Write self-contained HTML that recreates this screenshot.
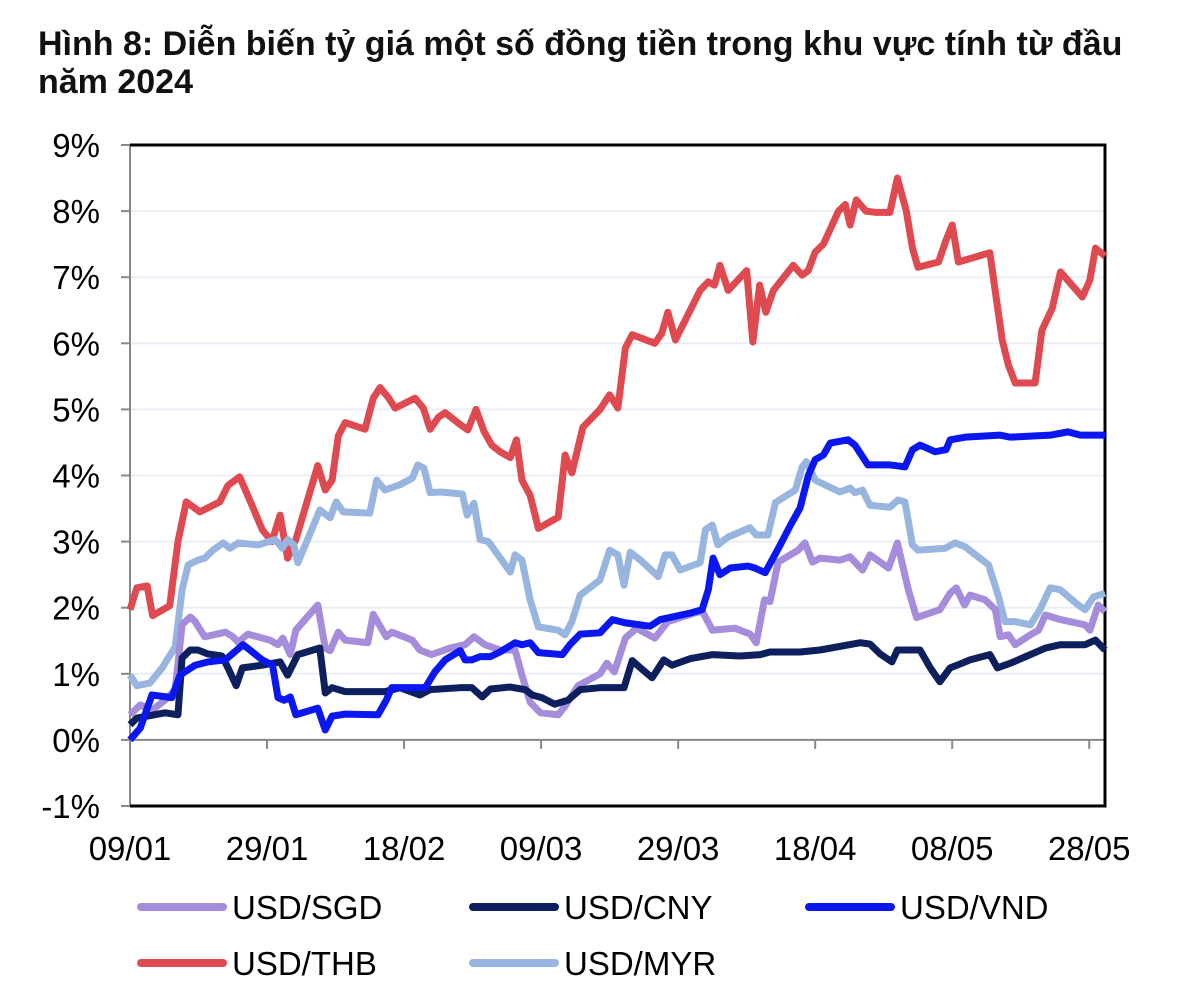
<!DOCTYPE html>
<html><head><meta charset="utf-8">
<style>
body{margin:0;background:#fff;width:1200px;height:999px;overflow:hidden;font-family:"Liberation Sans",Arial,sans-serif}
.title{position:absolute;left:38px;top:25px;font-weight:bold;font-size:34px;line-height:38px;color:#111}
</style></head><body>
<div class="title">Hình 8: Diễn biến tỷ giá một số đồng tiền trong khu vực tính từ đầu<br>năm 2024</div>
<svg id="c" width="1200" height="999" style="position:absolute;left:0;top:0"></svg>
<script>
const yTicks=[-1,0,1,2,3,4,5,6,7,8,9];
const xTickDays=[0,20,40,60,80,100,120,140];
const xTickLabels=["09/01","29/01","18/02","09/03","29/03","18/04","08/05","28/05"];
const thbDays=[0,1,2.5,3.3,5.8,7,8.2,10.2,13.1,14.3,16,17.8,19.3,20.7,21.9,23,24.2,27.4,28.5,29.5,30.4,31.4,34.3,35.5,36.5,37.7,38.7,41.6,42.8,43.8,45,46,48.2,49.3,50.5,51.7,52.8,54,55.5,56.4,57.2,58.4,59.6,62.5,63.5,64.5,66.1,68.6,70,71.2,72.3,73.3,76.6,77.6,78.5,79.6,83.2,84.4,85.3,86.1,87.3,90,90.9,91.9,92.8,93.9,96.8,98.1,99,100,101.2,103.4,104.4,105.1,106,107.4,108.9,110.9,112,113.3,114.2,115,118,119.1,120,120.9,125.5,126.4,127.3,128.2,129.2,132.1,133.1,134.6,135.8,139,140.1,140.9,142.3];
const thbVals=[1.97,2.3,2.33,1.88,2.03,3.0,3.6,3.45,3.6,3.85,3.98,3.55,3.18,3.0,3.4,2.75,3.03,4.15,3.78,3.93,4.6,4.8,4.7,5.17,5.33,5.18,5.02,5.17,5.02,4.7,4.88,4.95,4.77,4.69,5.0,4.66,4.46,4.36,4.27,4.54,3.93,3.7,3.2,3.37,4.31,4.04,4.73,5.0,5.22,5.02,5.93,6.13,6.0,6.15,6.47,6.05,6.8,6.93,6.88,7.18,6.8,7.1,6.02,6.88,6.47,6.8,7.18,7.03,7.1,7.38,7.5,8.0,8.1,7.79,8.17,8.0,7.98,7.98,8.5,8.0,7.44,7.15,7.23,7.56,7.79,7.23,7.37,6.7,6.05,5.67,5.4,5.4,6.2,6.53,7.08,6.7,6.96,7.44,7.32];
const sgdDays=[0,1.5,3.2,5.1,6.6,7.6,8.8,9.5,10.9,13.9,14.9,15.8,17.2,20.4,21.6,22.3,23.4,24.2,27.4,28.5,29.2,30.4,31.4,34.7,35.5,37.4,38.2,41.2,42.3,44,46.7,48.9,50.2,51.8,54,56.2,57.2,58.4,59.9,62.5,63.5,65.4,68.6,69.6,70.7,72.3,73.9,76.6,78.5,81.8,83.5,85,88.3,90.5,91.4,92.6,93.4,94.6,97.5,98.5,99.6,100.7,103.6,105.1,106.9,108,110.7,112,113.6,114.8,118.2,119.7,120.6,121.8,122.6,124.8,126.3,127,128.2,129.2,131.4,132.6,133.6,135.8,139.4,140.1,141.3,142.3];
const sgdVals=[0.38,0.53,0.45,0.6,0.76,1.74,1.86,1.79,1.56,1.63,1.57,1.48,1.6,1.51,1.44,1.54,1.29,1.66,2.04,1.39,1.35,1.63,1.51,1.47,1.9,1.56,1.63,1.51,1.36,1.29,1.39,1.44,1.56,1.44,1.36,1.36,0.98,0.57,0.41,0.38,0.51,0.82,1.0,1.16,1.03,1.54,1.69,1.54,1.79,1.9,1.95,1.66,1.69,1.6,1.47,2.12,2.09,2.69,2.87,2.98,2.69,2.75,2.72,2.77,2.57,2.8,2.6,2.98,2.27,1.85,1.97,2.22,2.3,2.04,2.19,2.12,1.97,1.56,1.59,1.44,1.59,1.66,1.89,1.82,1.74,1.66,2.04,1.94];
const cnyDays=[0,1,5.1,7,7.6,8.8,9.9,11.4,13.4,14.3,15.5,16.4,19.3,21.9,23,24.5,27.7,28.5,29.5,31.4,37.2,39.4,42.3,43.8,48.2,49.9,51.4,52.6,55.5,57.7,58.7,60.1,62,63.9,65.7,68.6,72.1,73.3,74.5,76.2,77.9,79.1,81.8,85,89,92,93.4,97.8,100.7,106.6,108,109.5,111.2,112,115.3,116.8,118.2,119.7,121.2,122.6,125.5,126.6,128.5,131.4,133.6,135.8,139.4,140.9,142.3];
const cnyVals=[0.23,0.33,0.41,0.38,1.24,1.36,1.36,1.3,1.27,1.09,0.82,1.09,1.13,1.18,0.98,1.29,1.39,0.71,0.79,0.73,0.73,0.79,0.68,0.76,0.79,0.79,0.65,0.77,0.8,0.76,0.68,0.64,0.54,0.6,0.76,0.79,0.79,1.2,1.09,0.94,1.21,1.13,1.23,1.29,1.27,1.29,1.33,1.33,1.36,1.47,1.45,1.3,1.18,1.36,1.36,1.09,0.88,1.09,1.15,1.21,1.29,1.09,1.16,1.29,1.39,1.44,1.44,1.51,1.36];
const vndDays=[0,1.5,3.2,6.1,7.3,9.5,11.4,13.9,16.5,17.5,19.3,20.8,21.6,22.5,23.4,24.2,27.4,28.5,29.5,31.4,36.2,37.4,38.2,41.2,43.1,44.5,46,48.2,48.9,49.9,51.1,52.6,54,56.2,57.2,58.4,59.6,63.1,64.2,65.7,68.6,70.4,72.3,75.9,77.4,81.8,83.5,84.4,85.1,86.1,87.6,90.2,91.2,92.7,94.9,96.4,97.8,99,100,101.2,102.2,104.8,105.8,107.7,110.9,111.7,113.1,114.2,115.3,117.5,119.1,119.7,121.9,127,128.5,134.3,136.9,138.7,140.1,142.3];
const vndVals=[0,0.18,0.68,0.64,0.98,1.13,1.18,1.21,1.44,1.36,1.21,1.13,0.64,0.6,0.65,0.38,0.48,0.15,0.36,0.39,0.38,0.6,0.79,0.79,0.79,1.03,1.21,1.35,1.21,1.21,1.26,1.26,1.33,1.47,1.44,1.47,1.32,1.29,1.44,1.6,1.62,1.82,1.77,1.72,1.82,1.92,1.97,2.27,2.75,2.5,2.6,2.63,2.6,2.53,2.95,3.25,3.51,4.0,4.24,4.31,4.49,4.54,4.46,4.16,4.16,4.15,4.13,4.39,4.46,4.36,4.39,4.54,4.58,4.61,4.58,4.61,4.66,4.61,4.61,4.61];
const myrDays=[0,1,2.9,4.7,6.6,7.6,8.5,9.9,10.9,12.1,13.6,14.6,15.8,18.7,21.2,22.2,23,23.9,24.5,27,27.7,29.2,30.1,31.1,35,36,37.2,39.4,41.2,42,42.9,43.8,45.3,48.5,49.2,50.2,51.1,52.3,53.7,55.5,56.2,57.2,58.4,59.6,62.5,63.5,64.5,65.7,68.6,70,71.2,72.1,73,74.5,77.1,78.1,79.1,80.3,83.2,84,85,85.8,87.3,90.5,91.4,93.1,94.2,97.1,98.1,98.7,100,103.6,105.1,105.8,106.9,108,110.9,112.1,113.1,114.2,115,119,120.4,121.9,122.9,125.3,126.7,127.7,129.2,131.4,132.8,134.3,135.8,138.4,139.4,140.6,142.3];
const myrVals=[0.98,0.82,0.86,1.09,1.41,2.27,2.65,2.72,2.75,2.87,2.98,2.9,2.98,2.95,3.03,2.9,3.03,2.95,2.68,3.3,3.48,3.36,3.6,3.45,3.43,3.93,3.78,3.86,3.96,4.16,4.11,3.74,3.75,3.72,3.4,3.58,3.03,3.0,2.8,2.54,2.8,2.72,2.12,1.71,1.66,1.59,1.79,2.19,2.42,2.87,2.8,2.34,2.84,2.72,2.47,2.8,2.8,2.57,2.68,3.18,3.25,2.95,3.07,3.21,3.1,3.1,3.59,3.78,4.13,4.21,3.93,3.75,3.81,3.74,3.78,3.55,3.52,3.63,3.6,2.95,2.87,2.9,2.98,2.92,2.84,2.65,2.19,1.79,1.79,1.74,1.97,2.3,2.27,2.04,1.97,2.16,2.22];

const L=130,R=1105,T=145,B=806;
const X=d=>L+d*(R-L)/142.3;
const Y=v=>T+(9-v)*(B-T)/10;
const svg=document.getElementById('c');
const NS='http://www.w3.org/2000/svg';
function mk(t,a){const e=document.createElementNS(NS,t);for(const k in a)e.setAttribute(k,a[k]);svg.appendChild(e);return e;}
yTicks.forEach(v=>{
  if(v>-1&&v<9&&v!==0){const g=mk('line',{x1:L,x2:R,y1:Y(v),y2:Y(v),stroke:'#eaeef7','stroke-width':2});
  
  }
  const tk=mk('line',{x1:L-9,x2:L,y1:Y(v),y2:Y(v),stroke:'#888','stroke-width':2});
  
  
  const t=mk('text',{x:100,y:Y(v)+12,'text-anchor':'end','font-size':33,fill:'#000'});
  t.textContent=v+'%';
  
  
});
let a0=mk('line',{x1:L,x2:R,y1:Y(0),y2:Y(0),stroke:'#888','stroke-width':2});


xTickDays.forEach((d,i)=>{
  if(i>0){const tk=mk('line',{x1:X(d),x2:X(d),y1:Y(0),y2:Y(0)+9,stroke:'#888','stroke-width':2});
  
  }
  const t=mk('text',{x:X(d),y:860,'text-anchor':'middle','font-size':33,fill:'#000'});
  t.textContent=xTickLabels[i];
  
  
});
let la=mk('line',{x1:L,x2:L,y1:T,y2:B,stroke:'#888','stroke-width':2});


let fr=mk('path',{d:`M${L},${T}H${R}V${B}H${L}`,fill:'none',stroke:'#000','stroke-width':3});


const series=[
 ['usd-thb',thbDays,thbVals,'#de4a50'],
 ['usd-myr',myrDays,myrVals,'#98b5e0'],
 ['usd-sgd',sgdDays,sgdVals,'#a68ddb'],
 ['usd-cny',cnyDays,cnyVals,'#0d1f5c'],
 ['usd-vnd',vndDays,vndVals,'#0b17f0']];
series.forEach(s=>{
  const p=mk('polyline',{points:s[1].map((d,i)=>X(d)+','+Y(s[2][i])).join(' '),fill:'none',stroke:s[3],'stroke-width':7,'stroke-linejoin':'round'});
  
  
});
const legend=[['USD/SGD','#a68ddb',141,907],['USD/CNY','#0d1f5c',473,907],['USD/VND','#0b17f0',809,907],['USD/THB','#de4a50',141,963],['USD/MYR','#98b5e0',473,963]];
legend.forEach(l=>{
  const ln=mk('line',{x1:l[2],x2:l[2]+82,y1:l[3],y2:l[3],stroke:l[1],'stroke-width':8,'stroke-linecap':'round'});
  
  
  const t=mk('text',{x:l[2]+91,y:l[3]+12,'font-size':33,fill:'#000'});
  t.textContent=l[0];
  
  
});
</script>
</body></html>
